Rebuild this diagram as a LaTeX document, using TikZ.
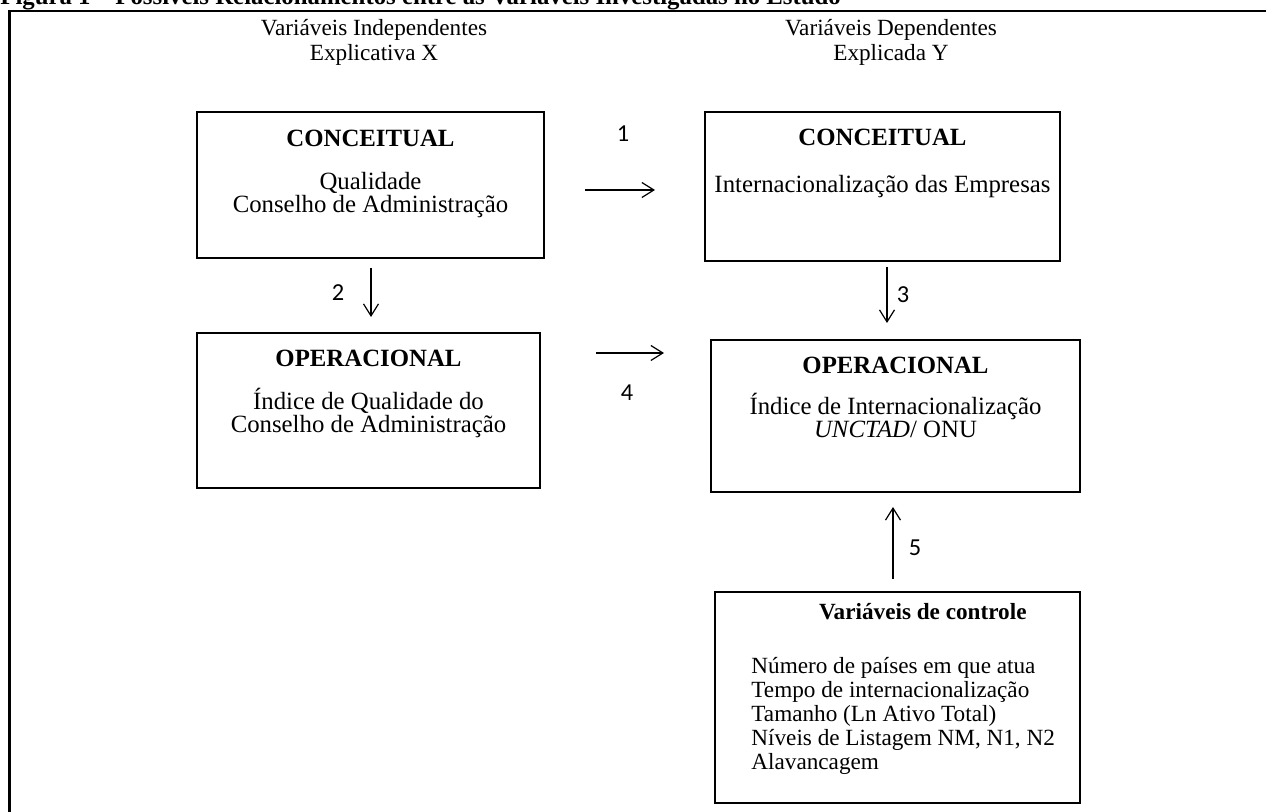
\documentclass[tikz,border=0pt]{standalone}
\usepackage{fontspec}
\setmainfont{Liberation Serif}
\newfontfamily\numfont{Carlito}
\newcommand\tightlines{\lineskiplimit=-20pt\relax}
\usetikzlibrary{arrows.meta, positioning, calc}
\tikzset{
    box/.style={rectangle, draw, line width=0.7pt, inner sep=0pt},
    arrow/.style={line width=0.6pt, -{Straight Barb[length=6pt, width=7.5pt]}}
}

\begin{document}
\begin{tikzpicture}[x=0.5pt, y=-0.5pt,
    head/.style={align=center, font=\fontsize{11.6}{12.5}\selectfont},
    boxtitle/.style={font=\fontsize{12.4}{14}\selectfont\bfseries},
    boxtext/.style={align=center, font=\fontsize{12.4}{11.5}\selectfont\tightlines},
    cttitle/.style={font=\fontsize{11.6}{13}\selectfont\bfseries},
    cttext/.style={align=left, font=\fontsize{11.6}{12}\selectfont},
    num/.style={font=\numfont\fontsize{12.2}{14}\selectfont}]

    \useasboundingbox (0,0) rectangle (1266,812);

    % Title (cut at the top of the page) and frame
    \node (title) [anchor=base west, inner sep=0pt, font=\fontsize{12.4}{14}\selectfont\bfseries] at (0,5)
        {Figura 1 – Possíveis Relacionamentos entre as Variáveis Investigadas no Estudo};
    \draw [line width=1.2pt] (9.5,11) rectangle (1300,850);

    % Column heads
    \node (hx) [head] at (374,42) {Variáveis Independentes\\Explicativa X};
    \node (hy) [head] at (891,42) {Variáveis Dependentes\\Explicada Y};

    % Boxes
    \node (cl) [box, minimum width=173.5pt, minimum height=73pt] at (370.5,185) {};
    \node (cr) [box, minimum width=177.5pt, minimum height=74.5pt] at (882.5,186.5) {};
    \node (ol) [box, minimum width=171.5pt, minimum height=77.5pt] at (368.5,410.5) {};
    \node (or) [box, minimum width=184.5pt, minimum height=76pt] at (895.5,416) {};
    \node (ct) [box, minimum width=182.5pt, minimum height=105.5pt] at (897.5,697.5) {};

    % Box texts
    \node (clt) [boxtitle] at ($(cl.north)+(0,27)$) {CONCEITUAL};
    \node (clx) [boxtext] at ($(cl.north)+(0,84)$) {Qualidade\\Conselho de Administração};
    \node (crt) [boxtitle] at ($(cr.north)+(0,26)$) {CONCEITUAL};
    \node (crx) [boxtext] at ($(cr.north)+(0,75)$) {Internacionalização das Empresas};
    \node (olt) [boxtitle] at ($(ol.north)+(0,26)$) {OPERACIONAL};
    \node (olx) [boxtext] at ($(ol.north)+(0,81)$) {Índice de Qualidade do\\Conselho de Administração};
    \node (ort) [boxtitle] at ($(or.north)+(0,26)$) {OPERACIONAL};
    \node (orx) [boxtext] at ($(or.north)+(0,76)$) {Índice de Internacionalização\\\textit{UNCTAD}/ ONU};
    \node (ctt) [cttitle, anchor=west] at (812,612) {Variáveis de controle};
    \node (ctx) [cttext, anchor=north west, inner sep=0pt] at (751,657)
        {Número de países em que atua\\Tempo de internacionalização\\Tamanho (Ln Ativo Total)\\Níveis de Listagem NM, N1, N2\\Alavancagem};

    % Arrows
    \coordinate (a1s) at (585,190);
    \coordinate (a1e) at (655,190);
    \coordinate (a2s) at (371,268);
    \coordinate (a2e) at (371,317);
    \coordinate (a3s) at (887,267);
    \coordinate (a3e) at (887,323);
    \coordinate (a4s) at (596,353);
    \coordinate (a4e) at (664,353);
    \coordinate (a5s) at (893,579);
    \coordinate (a5e) at (893,507);
    \draw [arrow] (a1s) -- (a1e);
    \draw [arrow] (a2s) -- (a2e);
    \draw [arrow] (a3s) -- (a3e);
    \draw [arrow] (a4s) -- (a4e);
    \draw [arrow] (a5s) -- (a5e);

    % Numbers
    \node (n1) [num] at (623,134) {1};
    \node (n2) [num] at (338,293) {2};
    \node (n3) [num] at (903,295) {3};
    \node (n4) [num] at (627,393) {4};
    \node (n5) [num] at (915,548) {5};
\end{tikzpicture}
\end{document}
